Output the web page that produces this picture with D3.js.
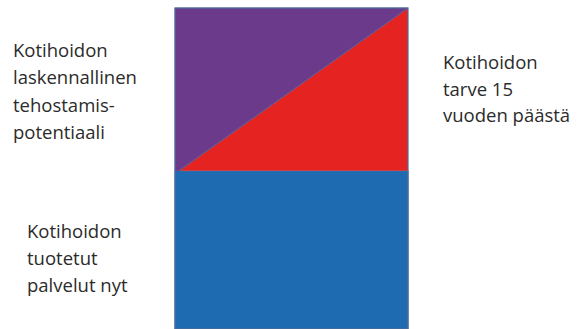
<!DOCTYPE html>
<html><head><meta charset="utf-8">
<script src="https://cdnjs.cloudflare.com/ajax/libs/d3/7.8.5/d3.min.js"></script>
<style>html,body{margin:0;padding:0;background:#fff;overflow:hidden}</style>
</head><body>
<svg id="c" width="587" height="329"></svg>
<script>
const categories = ["Kotihoito"];
const currentServices = [1.0];   // Kotihoidon tuotetut palvelut nyt
const need15Years = [2.03];       // Kotihoidon tarve 15 vuoden päästä
const labelLeftTop = ["Kotihoidon", "laskennallinen", "tehostamis-", "potentiaali"];
const labelRight = ["Kotihoidon", "tarve 15", "vuoden päästä"];
const labelLeftBottom = ["Kotihoidon", "tuotetut", "palvelut nyt"];

const svg = d3.select("#c");
const x = d3.scaleBand().domain(categories).range([175, 408]).padding(0);
const y = d3.scaleLinear().domain([0, d3.max(need15Years)]).range([329, 8]);

const g = svg.append("g");
categories.forEach((c, i) => {
  const x0 = x(c), x1 = x(c) + x.bandwidth();
  const yc = y(currentServices[i]), yn = y(need15Years[i]), yb = y(0);
  // blue: current services
  g.append("rect").attr("x", x0).attr("y", yc).attr("width", x1 - x0).attr("height", yb - yc)
    .attr("fill", "#1f6bb1").attr("stroke", "#3f6d9e").attr("stroke-width", 1);
  // purple: efficiency potential (upper-left)
  g.append("path").attr("d", `M${x0},${yn}L${x1},${yn}L${x0 + 4},${yc}L${x0},${yc}Z`)
    .attr("fill", "#6b3a8b").attr("stroke", "#6b3a8b").attr("stroke-width", 0.5);
  // red: growth in need (lower-right triangle)
  g.append("path").attr("d", `M${x0 + 4},${yc}L${x1},${yc}L${x1},${yn}Z`)
    .attr("fill", "#e52422");
  // diagonal edge
  g.append("line").attr("x1", x0 + 4).attr("y1", yc).attr("x2", x1).attr("y2", yn)
    .attr("stroke", "#5a5f9a").attr("stroke-width", 1);
  // outer outline
  g.append("rect").attr("x", x0).attr("y", yn).attr("width", x1 - x0).attr("height", yb - yn)
    .attr("fill", "none").attr("stroke", "#4a6d9c").attr("stroke-width", 1.2);
});

function block(lines, x0, y0, dy) {
  const t = svg.append("text").attr("font-family", "'Open Sans', sans-serif")
    .attr("font-size", 18.5).attr("fill", "#2b2b2b");
  lines.forEach((l, i) => t.append("tspan").attr("x", x0).attr("y", y0 + i * dy).text(l));
}
block(labelLeftTop, 13, 57, 27.3);
block(labelRight, 443, 69, 26.5);
block(labelLeftBottom, 27, 238, 27);
</script>
</body></html>
